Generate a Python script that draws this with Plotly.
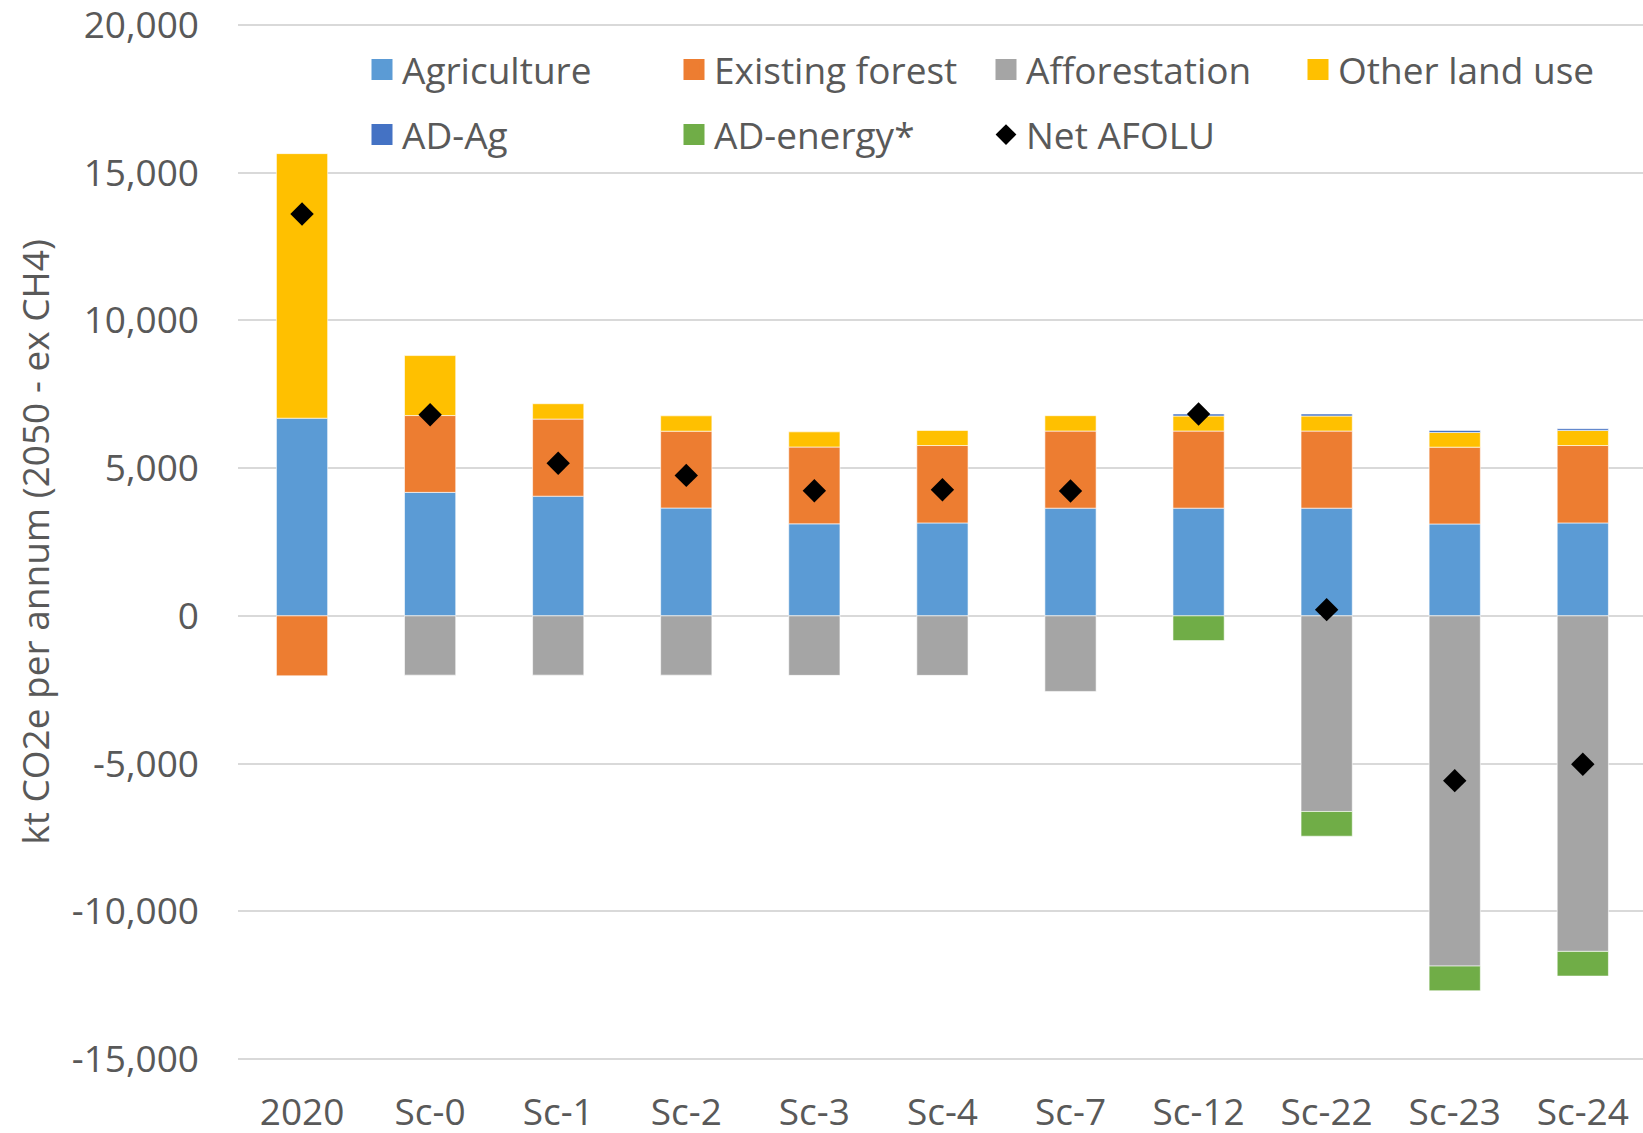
import plotly.graph_objects as go

# Scenario categories and emission components (kt CO2e per annum)
categories = ["2020", "Sc-0", "Sc-1", "Sc-2", "Sc-3", "Sc-4", "Sc-7", "Sc-12", "Sc-22", "Sc-23", "Sc-24"]
agriculture = [6690, 4180, 4050, 3650, 3115, 3145, 3645, 3645, 3645, 3110, 3145]
existing_forest = [-2030, 2600, 2610, 2600, 2600, 2620, 2610, 2610, 2610, 2600, 2620]
afforestation = [None, -2006, -2006, -2006, -2014, -2014, -2557, None, -6621, -11853, -11356]
other_land_use = [8955, 2030, 520, 520, 513, 510, 520, 510, 510, 497, 510]
ad_ag = [None, None, None, None, None, None, None, 68, 68, 68, 57]
ad_energy = [None, None, None, None, None, None, None, -837, -837, -836, -836]
net_afolu = [13600, 6805, 5165, 4755, 4235, 4270, 4225, 6833, 210, -5578, -5020]

y_tick_vals = [-15000, -10000, -5000, 0, 5000, 10000, 15000, 20000]
y_tick_labels = ["-15,000", "-10,000", "-5,000", "0", "5,000", "10,000", "15,000", "20,000"]

FONT = "Open Sans"
TEXT_COLOR = "#595959"
FS = 37

bar_series = [
    ("Agriculture", agriculture, "#5B9BD5", "legend"),
    ("Existing forest", existing_forest, "#ED7D31", "legend"),
    ("Afforestation", afforestation, "#A5A5A5", "legend"),
    ("Other land use", other_land_use, "#FFC000", "legend"),
    ("AD-Ag", ad_ag, "#4472C4", "legend2"),
    ("AD-energy*", ad_energy, "#70AD47", "legend2"),
]

fig = go.Figure()

for name, vals, color, _ in bar_series:
    fig.add_trace(go.Bar(
        x=categories, y=vals, name=name,
        marker=dict(color=color, line=dict(color="rgba(255,255,255,0.6)", width=1)),
        showlegend=False,
    ))

fig.add_trace(go.Scatter(
    x=categories, y=net_afolu, name="Net AFOLU", mode="markers",
    marker=dict(symbol="diamond", size=18, color="black"),
    showlegend=False,
))

# Legend entries with larger square swatches
for name, _, color, lg in bar_series:
    fig.add_trace(go.Scatter(
        x=[None], y=[None], name=name, mode="markers", legend=lg,
        marker=dict(symbol="square", size=16, color=color, line=dict(color=color, width=5)),
    ))
fig.add_trace(go.Scatter(
    x=[None], y=[None], name="Net AFOLU", mode="markers", legend="legend2",
    marker=dict(symbol="diamond", size=16, color="black"),
))

legend_common = dict(
    orientation="h", xref="container", yref="container",
    xanchor="left", yanchor="top", x=362 / 1643,
    entrywidth=267, entrywidthmode="pixels",
    font=dict(family=FONT, size=FS, color=TEXT_COLOR),
    bgcolor="rgba(0,0,0,0)", itemsizing="trace",
)

fig.update_layout(
    width=1643, height=1133,
    margin=dict(l=238, r=0, t=22, b=71, autoexpand=False),
    barmode="relative", bargap=0.6,
    plot_bgcolor="white", paper_bgcolor="white",
    font=dict(family=FONT, size=FS, color=TEXT_COLOR),
    xaxis=dict(
        type="category", range=[-0.5, 10.47],
        showgrid=False, showline=False, zeroline=False,
        ticks="", ticklabelstandoff=25, automargin=False,
        ticklabeloverflow="allow",
        tickfont=dict(family=FONT, size=FS, color=TEXT_COLOR),
    ),
    yaxis=dict(
        range=[-15100, 20100], tickmode="array",
        tickvals=y_tick_vals, ticktext=y_tick_labels,
        showgrid=True, gridcolor="#D9D9D9", gridwidth=1.5,
        zeroline=False, showline=False, ticks="",
        ticklabelstandoff=38, automargin=False,
        ticklabeloverflow="allow",
        tickfont=dict(family=FONT, size=FS, color=TEXT_COLOR),
        title=dict(text="kt CO2e per annum (2050 - ex CH4)", standoff=10,
                   font=dict(family=FONT, size=FS, color=TEXT_COLOR)),
    ),
    legend=dict(legend_common, y=1 - 39 / 1133),
    legend2=dict(legend_common, y=1 - 104 / 1133),
)

fig.write_html("out.html")
